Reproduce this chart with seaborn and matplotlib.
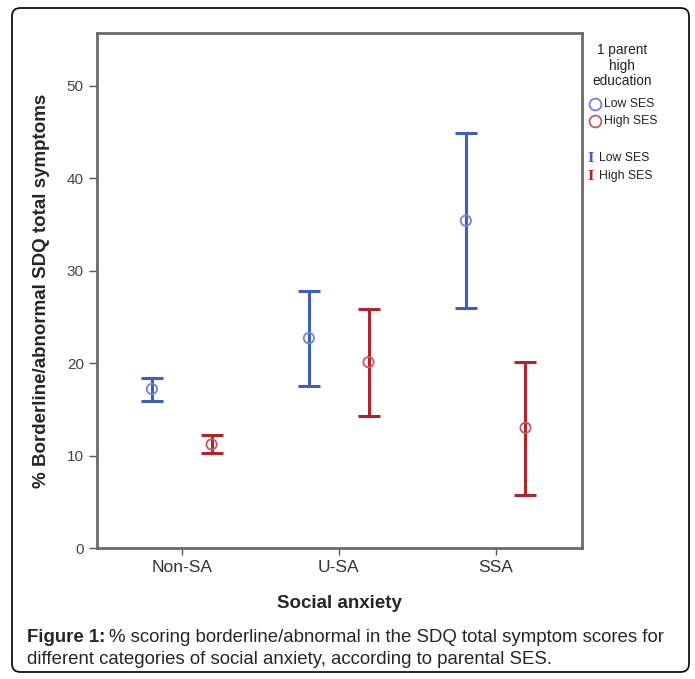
import matplotlib
matplotlib.use('Agg')
import matplotlib.pyplot as plt
import seaborn as sns
import pandas as pd
from matplotlib.patches import FancyBboxPatch
from matplotlib.lines import Line2D

# Datos
categorias = ['Non-SA', 'U-SA', 'SSA']
grupos = ['Low SES', 'High SES']
media_low = [17.2, 22.7, 35.4]
inf_low = [15.9, 17.5, 26.0]
sup_low = [18.4, 27.8, 44.9]
media_high = [11.2, 20.1, 13.0]
inf_high = [10.3, 14.3, 5.7]
sup_high = [12.2, 25.9, 20.1]

colores = {'Low SES': '#3f5fbf', 'High SES': '#b0242b'}
colores_claros = {'Low SES': '#6f86cf', 'High SES': '#c35a5f'}

df = pd.DataFrame({
    'cat': categorias * 2,
    'grupo': ['Low SES'] * 3 + ['High SES'] * 3,
    'media': media_low + media_high,
    'inf': inf_low + inf_high,
    'sup': sup_low + sup_high,
})
desplaz = {'Low SES': -0.19, 'High SES': 0.19}
df['x'] = df['cat'].map({c: i for i, c in enumerate(categorias)}) + df['grupo'].map(desplaz)

sns.set_style('white')
plt.rcParams['font.family'] = ['Liberation Sans', 'DejaVu Sans']

fig = plt.figure(figsize=(6.95, 6.79), dpi=100)
ax = fig.add_axes([97 / 695, 1 - 548 / 679, (582 - 97) / 695, (548 - 33) / 679])

# Medias (circulos huecos)
sns.scatterplot(data=df, x='x', y='media', hue='grupo', palette=colores_claros, ax=ax,
                marker='o', s=55, linewidth=1.3, legend=False, zorder=3)
puntos = ax.collections[0]
puntos.set_facecolor('none')
puntos.set_edgecolor([colores_claros[g] for g in df['grupo']])

# Barras de error
for g in grupos:
    d = df[df['grupo'] == g]
    ax.errorbar(d['x'], d['media'], yerr=[d['media'] - d['inf'], d['sup'] - d['media']],
                fmt='none', ecolor=colores[g], elinewidth=2.2, capsize=8, capthick=2.2, zorder=2)

ax.set_xlim(-0.54, 2.55)
ax.set_ylim(0, 55.7)
ax.set_xticks(range(3))
ax.set_xticklabels(categorias, fontsize=12.5, color='#333333')
ax.set_yticks([0, 10, 20, 30, 40, 50])
ax.tick_params(axis='y', labelsize=11, labelcolor='#444444', length=6, width=1, color='#555555', left=True)
ax.tick_params(axis='x', length=5, width=1, color='#555555', bottom=True, pad=4)
for s in ax.spines.values():
    s.set_color('#6a6a6a')
    s.set_linewidth(2)
ax.set_xlabel('Social anxiety', fontsize=13.5, fontweight='bold', labelpad=14)
ax.set_ylabel('% Borderline/abnormal SDQ total symptoms', fontsize=13.5, fontweight='bold', labelpad=12)

# Leyenda
for yy, linea in [(50, '1 parent'), (66, 'high'), (81, 'education')]:
    fig.text(622 / 695, 1 - yy / 679, linea, ha='center', va='center',
             fontsize=9.8, color='#222222')
for yy, g in [(104, 'Low SES'), (121, 'High SES')]:
    fig.add_artist(Line2D([595 / 695], [1 - yy / 679], marker='o', markersize=8.5, markerfacecolor='none',
                          markeredgecolor=colores_claros[g], markeredgewidth=1.3, linestyle='none'))
    fig.text(603.5 / 695, 1 - yy / 679, g, ha='left', va='center', fontsize=8.8, color='#222222')
for yy, g in [(158, 'Low SES'), (176, 'High SES')]:
    fig.text(590 / 695, 1 - yy / 679, 'I', ha='center', va='center', fontsize=9.5,
             fontweight='bold', family='DejaVu Serif', color=colores[g])
    fig.text(599 / 695, 1 - yy / 679, g, ha='left', va='center', fontsize=8.8, color='#222222')

# Marco redondeado
marco = FancyBboxPatch((12 / 695, 1 - 672 / 679), (689 - 12) / 695, (672 - 8) / 679,
                       boxstyle='round,pad=0,rounding_size=0.012', transform=fig.transFigure,
                       fill=False, edgecolor='black', linewidth=1.2)
fig.add_artist(marco)

# Pie de figura
t1 = fig.text(27 / 695, 1 - 638 / 679, 'Figure 1:', fontsize=13.4, va='center', ha='left',
              fontweight='bold')
fig.canvas.draw()
bb = t1.get_window_extent()
fig.text((bb.x1 + 4) / 695, 1 - 638 / 679,
         '% scoring borderline/abnormal in the SDQ total symptom scores for',
         fontsize=13.4, va='center', ha='left')
fig.text(27 / 695, 1 - 660 / 679,
         'different categories of social anxiety, according to parental SES.',
         fontsize=13.4, va='center', ha='left')

fig.savefig('out.png', dpi=100)
